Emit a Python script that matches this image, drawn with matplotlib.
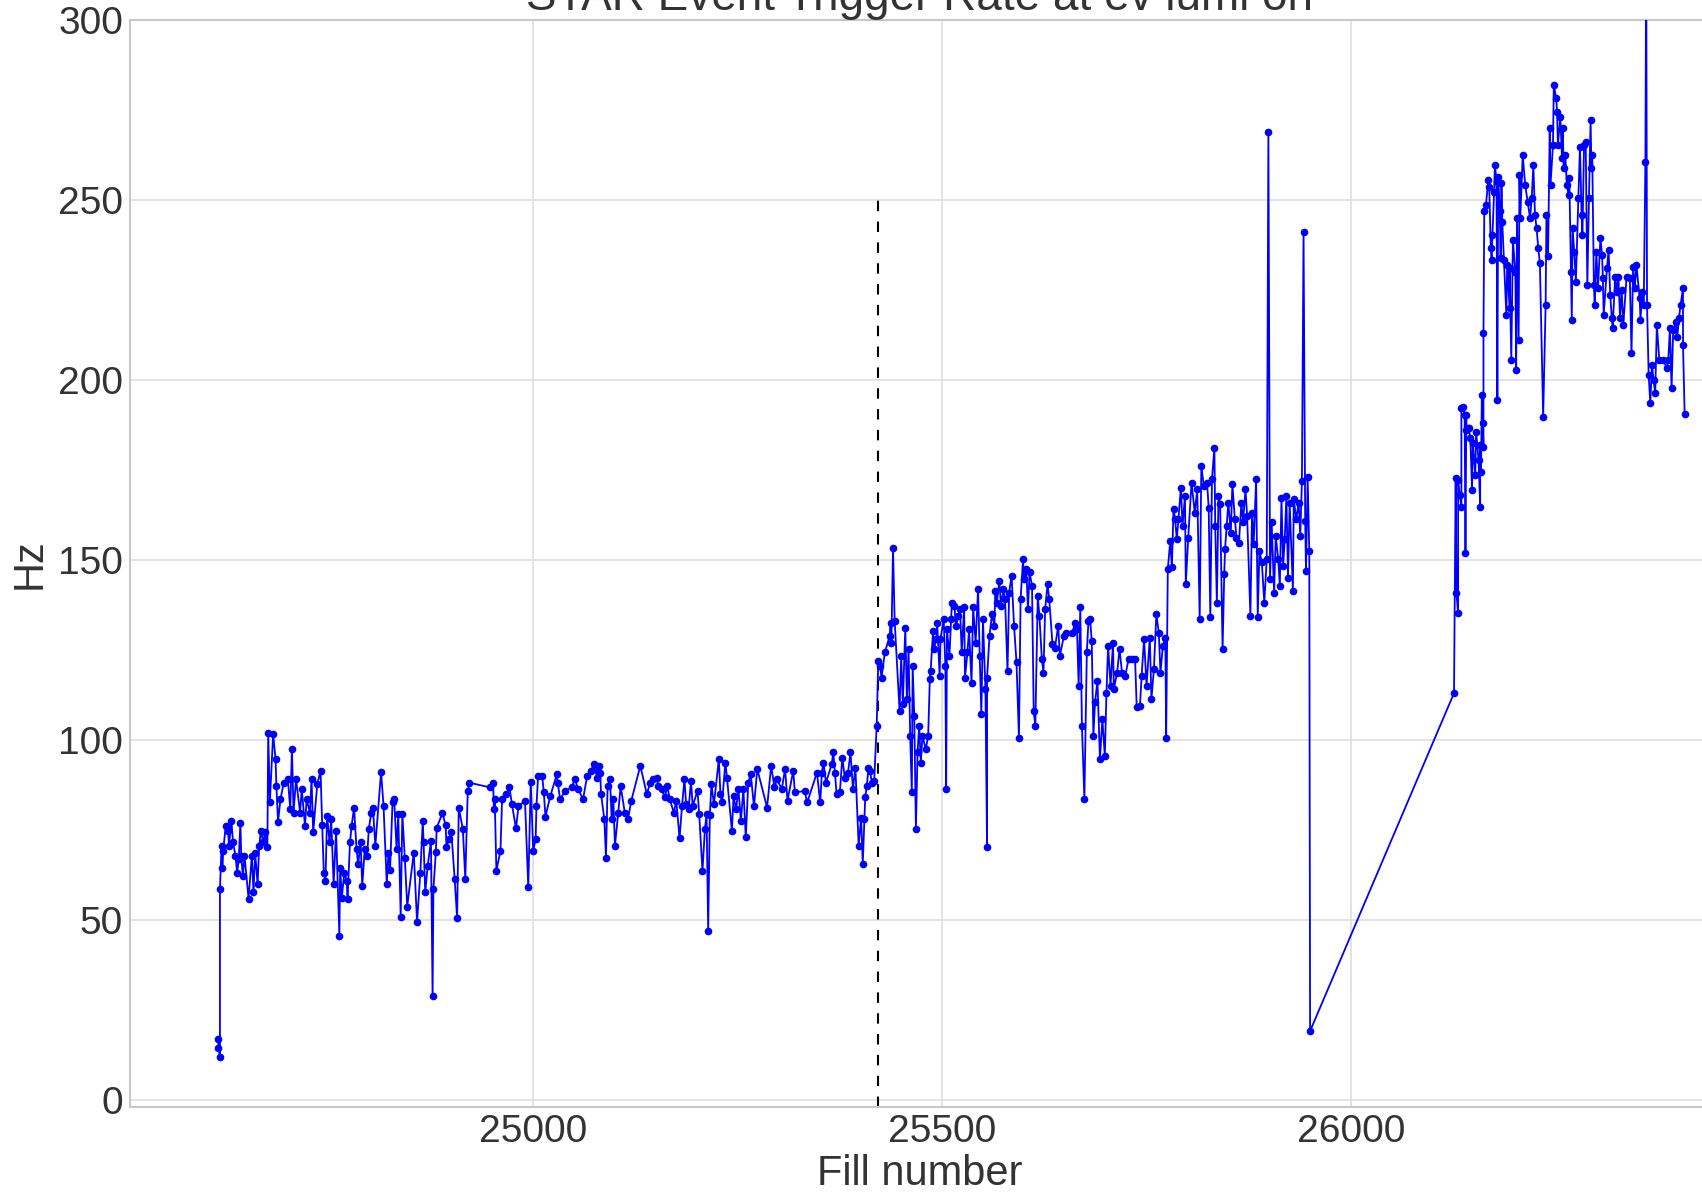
import matplotlib
matplotlib.use("Agg")
import matplotlib.pyplot as plt
import numpy as np

plt.rcParams['font.family'] = ['Liberation Sans', 'DejaVu Sans']

title = "STAR Event Trigger Rate at ev lumi on"
xlabel = "Fill number"
ylabel = "Hz"
divider_fill = 25422
divider_top = 250

# Period 1: before the divider
fill_a = [24615, 24615, 24617, 24617, 24619, 24620, 24621, 24624, 24627, 24628, 24631, 24633, 24636, 24638,
          24640, 24642, 24643, 24645, 24647, 24652, 24656, 24658, 24660, 24663, 24665, 24667, 24670, 24672,
          24675, 24676, 24678, 24682, 24685, 24686, 24688, 24691, 24695, 24700, 24703, 24705, 24707, 24710,
          24715, 24717, 24721, 24723, 24727, 24729, 24731, 24736, 24740, 24742, 24744, 24746, 24748, 24751,
          24753, 24756, 24759, 24763, 24764, 24766, 24769, 24772, 24773, 24776, 24778, 24781, 24784, 24786,
          24789, 24791, 24794, 24797, 24799, 24802, 24804, 24807, 24814, 24817, 24821, 24823, 24825, 24828,
          24830, 24833, 24835, 24838, 24840, 24843, 24846, 24854, 24858, 24862, 24865, 24866, 24868, 24871,
          24875, 24877,
          24878, 24881, 24882, 24889, 24893, 24894, 24897, 24900, 24904, 24907, 24909, 24914, 24917, 24920,
          24922, 24947, 24951, 24952, 24953, 24955, 24960, 24962, 24967, 24971, 24974, 24979, 24982, 24990,
          24994, 24997, 25000, 25003, 25004, 25006, 25011, 25013, 25015, 25021, 25029, 25030, 25033, 25039,
          25047, 25051, 25055, 25061, 25066, 25071, 25074, 25076, 25078, 25080, 25082, 25083, 25087, 25089,
          25091, 25094, 25096, 25098, 25100, 25104, 25107, 25112, 25116, 25120, 25131, 25139,
          25143, 25147, 25151, 25153, 25157, 25161, 25164, 25167, 25172, 25175, 25179, 25182, 25185, 25187,
          25190, 25193, 25195, 25201, 25203, 25207, 25210, 25212, 25214, 25216, 25218, 25221, 25227, 25229,
          25231, 25235, 25237, 25243, 25245, 25248, 25251, 25254, 25257, 25260, 25263, 25266, 25270, 25274,
          25286, 25291, 25295, 25298, 25304, 25308, 25311, 25318, 25320, 25332, 25335, 25347, 25351, 25353,
          25355, 25358, 25365, 25367, 25369, 25371, 25375, 25378, 25381, 25385, 25388, 25391, 25394, 25398,
          25401, 25403, 25405, 25406, 25408, 25410, 25412, 25414, 25417, 25420]
rate_a = [16.9, 14.5, 12.0, 58.5, 70.6, 64.5, 69.2, 76.1, 74.7, 70.6, 77.5, 71.5, 67.8, 63.1,
          66.9, 77.0, 67.8, 62.2, 67.8, 55.9, 67.8, 57.6, 68.7, 59.9, 70.6, 74.7, 71.5, 74.3,
          70.1, 101.9, 82.6, 101.6, 94.6, 87.2, 77.2, 83.5, 88.1, 89.1, 80.7, 97.6, 79.8, 89.1,
          79.8, 86.3, 76.1, 83.5, 79.8, 89.1, 74.3, 87.7, 91.4, 76.3, 63.1, 60.8, 78.9, 71.5,
          78.0, 59.9, 74.7, 45.6, 64.5, 56.2, 63.1, 60.8, 55.7, 71.5, 76.1, 81.2, 69.6, 65.5,
          71.5, 59.4, 69.6, 67.8, 75.2, 79.8, 81.2, 70.6, 91.1, 81.7, 59.9, 68.7, 63.9, 82.6,
          83.5, 69.6, 79.4, 50.9, 79.4, 67.3, 53.7, 68.7, 49.3, 63.1, 77.5, 71.5, 57.6, 65.0,
          71.9, 28.9,
          58.5, 68.9, 75.6, 79.6, 76.3, 70.1, 72.4, 74.3, 61.3, 50.4, 81.2, 75.2, 61.3, 85.8,
          88.1, 86.8, 88.1, 80.7, 83.5, 63.6, 69.2, 83.5, 84.9, 86.8, 82.1, 75.4, 81.5, 83.1,
          59.0, 88.3, 69.2, 72.4, 81.5, 90.0, 90.0, 85.4, 78.7, 84.4, 90.5, 88.1, 83.5, 85.8,
          86.8, 89.1, 86.3, 83.5, 90.0, 91.4, 93.2, 91.9, 89.5, 92.8, 90.9, 84.9, 78.0, 67.3,
          87.2, 89.1, 78.0, 83.5, 70.6, 79.8, 87.2, 79.8, 78.1, 83.1, 92.8, 84.9,
          88.1, 89.1, 89.5, 87.2, 86.3, 84.0, 87.2, 83.5, 79.8, 83.1, 72.6, 81.7, 89.1, 82.1,
          80.7, 88.6, 81.7, 85.8, 79.4, 63.6, 75.2, 79.4, 46.9, 79.0, 87.7, 82.1, 94.6, 84.9,
          82.6, 93.7, 89.5, 74.7, 84.4, 80.7, 86.3, 77.5, 86.3, 72.9, 88.1, 90.5, 81.5, 91.9,
          81.2, 92.8, 86.8, 89.1, 86.3, 91.9, 83.1, 91.4, 85.4, 85.8, 82.6, 90.9, 82.6, 90.9,
          93.7, 88.1, 93.2, 96.5, 90.9, 84.9, 85.4, 95.1, 89.5, 90.9, 96.5, 86.3, 92.3, 70.6,
          78.4, 65.5, 78.0, 84.0, 87.2, 92.3, 91.4, 88.1, 88.6, 103.9]

# Period 2: after the divider, up to the big drop
fill_b = [25422, 25424, 25426, 25430, 25436, 25437, 25438, 25440, 25442, 25448, 25450, 25452, 25455, 25457,
          25459, 25461, 25463, 25464, 25466, 25468, 25470, 25472, 25474, 25476, 25480, 25483, 25485, 25486,
          25489, 25490, 25493, 25494, 25497, 25498, 25502, 25504, 25505, 25506, 25509, 25511, 25512, 25515,
          25517, 25520, 25522, 25524, 25527, 25528, 25531, 25533, 25536, 25538, 25541, 25544, 25546, 25548,
          25550, 25553, 25555, 25555, 25558, 25561, 25564, 25565, 25567, 25570, 25572, 25575, 25577, 25580,
          25582, 25585, 25588, 25591, 25594, 25596, 25599, 25600, 25603, 25605, 25607, 25610, 25612, 25614,
          25617, 25619, 25622, 25624, 25626, 25629, 25631, 25635, 25638, 25642, 25644, 25649, 25652, 25659,
          25663, 25665, 25667, 25669, 25671, 25674, 25677, 25679,
          25681, 25683, 25685, 25687, 25690, 25693, 25696, 25699, 25701, 25703, 25706, 25709, 25710, 25714,
          25717, 25720, 25724, 25728, 25732, 25736, 25738, 25742, 25744, 25747, 25750, 25754, 25756, 25759,
          25762, 25765, 25767, 25770, 25773, 25774, 25776, 25779, 25781, 25783, 25785, 25787, 25789, 25792,
          25794, 25797, 25798, 25801, 25805, 25809, 25812, 25815, 25817, 25820, 25824, 25826, 25828, 25830,
          25833, 25834, 25836, 25838, 25840, 25843, 25845, 25846, 25848, 25850, 25853, 25855, 25858, 25860,
          25863, 25866, 25868, 25871, 25873, 25877, 25879, 25881, 25884, 25886, 25888, 25891, 25894, 25897,
          25899, 25901, 25903, 25906, 25908, 25911, 25913, 25915, 25917, 25919, 25921, 25923, 25925, 25929,
          25930, 25933, 25936, 25938, 25940, 25942, 25944, 25945, 25947, 25949, 25950]
rate_b = [121.9, 120.6, 117.3, 124.3, 128.9, 132.6, 127.0, 153.4, 133.1, 108.1, 123.3, 109.9, 131.2, 111.3,
          125.2, 101.1, 85.4, 120.6, 106.7, 75.2, 96.5, 103.9, 93.7, 101.1, 97.4, 101.1, 116.9, 119.2,
          130.3, 125.2, 128.0, 132.6, 117.8, 128.0, 133.5, 120.6, 86.3, 130.7, 123.3, 133.5, 138.1, 137.2,
          131.7, 134.4, 136.3, 124.3, 136.8, 117.3, 124.3, 130.7, 115.9, 136.8, 127.0, 142.0, 123.3, 107.1,
          133.5, 114.1, 70.1, 117.3, 128.9, 134.9, 131.7, 141.4, 138.1, 144.2, 137.2, 141.9, 139.1, 119.2,
          140.9, 145.6, 131.7, 121.5, 100.6, 139.1, 150.2, 144.6, 147.4, 136.3, 146.5, 142.8, 108.1, 103.9,
          140.0, 134.4, 122.4, 118.7, 136.3, 143.2, 139.1, 126.6, 125.6, 131.7, 123.3, 128.9, 129.8, 129.8,
          132.6, 130.7, 115.0, 136.8, 103.9, 83.5, 124.3, 133.1,
          133.5, 127.5, 101.1, 110.4, 116.4, 94.6, 105.7, 95.6, 113.1, 126.1, 115.0, 127.0, 114.1, 118.7,
          125.2, 118.7, 117.8, 122.4, 122.4, 122.4, 109.0, 109.4, 117.8, 128.0, 115.0, 128.4, 111.3, 119.6,
          134.9, 129.8, 118.7, 126.1, 128.4, 100.6, 147.4, 155.3, 147.9, 164.1, 161.3, 155.7, 161.3, 170.1,
          159.4, 167.8, 143.2, 156.2, 171.5, 163.1, 169.6, 133.5, 176.1, 170.6, 171.5, 164.5, 134.0, 172.4,
          181.2, 159.4, 138.1, 167.8, 165.5, 125.2, 146.0, 153.0, 159.4, 165.9, 157.6, 171.0, 161.3, 156.2,
          154.8, 165.9, 160.4, 169.6, 162.2, 134.4, 163.1, 154.4, 172.4, 134.0, 152.5, 149.3, 138.1, 150.2,
          269.0, 144.6, 160.4, 140.9, 156.7, 150.2, 142.8, 167.3, 148.3, 155.7, 167.8, 145.1, 165.9, 141.4,
          166.9, 161.3, 165.9, 156.7, 171.9, 241.0, 160.8, 146.9, 172.9, 152.5, 19.1]

# Period 3: after the gap
fill_c = [26126, 26128, 26129, 26131, 26131, 26133, 26135, 26135, 26137, 26139, 26140, 26141, 26141, 26143,
          26144, 26146, 26148, 26149, 26152, 26153, 26156, 26158, 26158, 26159, 26160, 26162, 26162, 26162,
          26163, 26165, 26168, 26169, 26171, 26172, 26173, 26175, 26176, 26178, 26179, 26180, 26182, 26183,
          26184, 26185, 26187, 26190, 26191, 26194, 26194, 26196, 26198, 26201, 26202, 26203, 26205, 26206,
          26207, 26210, 26213, 26216, 26219, 26221, 26223, 26225, 26227, 26229, 26231, 26235, 26238, 26239,
          26241, 26243, 26244, 26247, 26248, 26251, 26252, 26253, 26256, 26258, 26259, 26260, 26262, 26264,
          26266, 26267, 26269, 26270, 26271, 26273, 26275, 26278, 26280, 26282, 26283, 26285, 26287, 26289,
          26291, 26293, 26294, 26295, 26297, 26298, 26300, 26302, 26305, 26307, 26308, 26309, 26313, 26315,
          26317, 26319, 26320, 26323, 26325, 26327, 26329, 26331, 26333, 26337, 26341, 26343, 26345, 26347,
          26349, 26353, 26354, 26356, 26358, 26360, 26361, 26362, 26364, 26366, 26368, 26370, 26372, 26374,
          26377, 26382, 26386, 26388, 26390, 26392, 26394, 26397, 26399, 26401, 26403, 26406, 26406, 26408]
rate_c = [113.0, 172.7, 140.7, 135.2, 172.2, 168.0, 164.8, 192.1, 192.6, 190.3, 151.9, 190.3, 186.1, 186.6,
          186.6, 183.8, 169.4, 182.4, 173.6, 185.6, 177.8, 164.8, 181.9, 174.5, 195.8, 181.5, 188.0, 213.0,
          246.8, 248.6, 255.6, 253.7, 236.6, 233.3, 240.3, 252.3, 259.7, 255.1, 194.4, 256.5, 246.8, 233.8,
          254.6, 244.0, 233.3, 218.1, 232.0, 219.9, 231.0, 205.6, 238.9, 230.1, 202.8, 244.9, 211.1, 256.9,
          244.9, 262.5, 254.2, 249.5, 244.9, 250.5, 259.7, 245.8, 242.1, 236.6, 232.4, 189.8, 220.8, 245.8,
          234.3, 269.9, 254.2, 265.3, 281.9, 278.2, 274.5, 265.3, 273.1, 261.6, 269.9, 258.8, 262.5, 254.2,
          251.4, 256.0, 230.1, 216.7, 242.1, 235.6, 227.3, 250.5, 264.8, 245.8, 240.3, 265.3, 266.2, 226.4,
          250.5, 272.2, 258.8, 262.5, 226.4, 220.8, 235.6, 225.5, 239.4, 234.7, 228.2, 218.1, 231.0, 236.1,
          223.6, 217.1, 214.4, 228.7, 224.5, 228.7, 217.1, 225.0, 215.3, 228.7, 228.2, 207.4, 231.5, 225.5,
          232.0, 222.7, 216.7, 224.5, 220.8, 260.6, 320.0, 220.8, 201.4, 193.5, 204.2, 200.0, 196.3, 215.3,
          205.6, 205.6, 203.2, 205.6, 214.4, 197.7, 213.9, 216.2, 212.0, 217.1, 220.8, 225.5, 209.7, 190.5]

fills = np.array(fill_a + fill_b + fill_c)
rates = np.array(rate_a + rate_b + rate_c)

W, H = 1702, 1195
fig = plt.figure(figsize=(W / 100, H / 100), dpi=100)
left, right, top, bottom = 130, 1710, 20, 1107
ax = fig.add_axes([left / W, 1 - bottom / H, (right - left) / W, (bottom - top) / H])

ax.plot(fills, rates, color='#0000ff', lw=1.3, marker='o', ms=4.5, mec='#0000ff', mfc='#0000ff', zorder=3)
ax.vlines(divider_fill, -2, divider_top, colors='black', linestyles=(0, (5, 5)), lw=1.5, zorder=2)

ax.set_xlim(24507, 26439)
ax.set_ylim(-2, 300)
ax.set_xticks([25000, 25500, 26000])
ax.set_yticks([0, 50, 100, 150, 200, 250, 300])

ax.grid(True, color='#dedede', lw=1.2, zorder=0)
ax.set_axisbelow(True)
for s in ax.spines.values():
    s.set_color('#c8c8c8')
    s.set_linewidth(1.5)

ax.tick_params(length=0, labelsize=28, colors='#333333')
ax.tick_params(axis='y', pad=5)
ax.tick_params(axis='x', pad=5)
ax.set_title(title, fontsize=33, pad=6, color='#333333')
ax.set_xlabel(xlabel, fontsize=30, color='#333333')
ax.set_ylabel(ylabel, fontsize=30, color='#333333')
ax.xaxis.set_label_coords(0.5, -0.043)
ax.yaxis.set_label_coords(-0.051, 0.5)

fig.savefig('out.png', dpi=100)
